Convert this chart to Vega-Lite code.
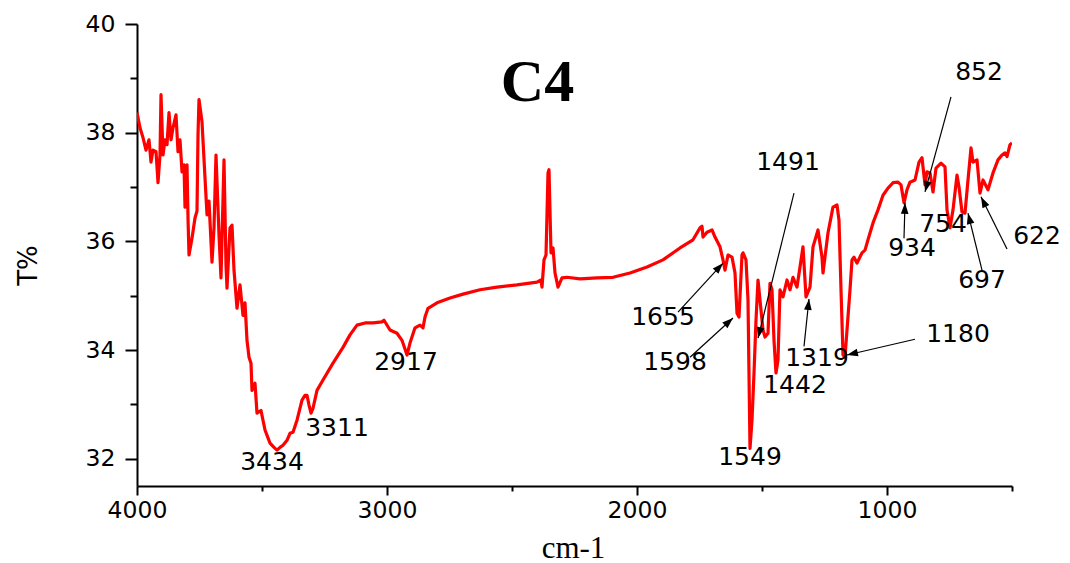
{
  "$schema": "https://vega.github.io/schema/vega-lite/v6.json",
  "autosize": {"type": "none"},
  "padding": {"left": 137, "top": 24, "right": 58, "bottom": 77},
  "width": 875,
  "height": 462,
  "background": "white",
  "title": {
    "text": "C4",
    "font": "Liberation Serif",
    "fontSize": 60,
    "fontWeight": "bold",
    "color": "black",
    "anchor": "middle",
    "dx": -37,
    "offset": -149,
    "baseline": "alphabetic"
  },
  "config": {
    "view": {"stroke": null},
    "axis": {
      "grid": false,
      "domainColor": "black",
      "domainWidth": 2,
      "tickColor": "black",
      "tickWidth": 2,
      "labelColor": "black",
      "labelFont": "DejaVu Sans",
      "labelFontSize": 23.5,
      "labelFlush": false,
      "labelOverlap": false,
      "titleColor": "black"
    }
  },
  "datasets": {
    "spectrum": [
      {"wn":4000,"t":38.37},{"wn":3988,"t":38.09},{"wn":3976,"t":37.91},{"wn":3964,"t":37.68},
      {"wn":3952,"t":37.87},{"wn":3944,"t":37.46},{"wn":3936,"t":37.68},{"wn":3924,"t":37.65},
      {"wn":3916,"t":37.08},{"wn":3908,"t":37.59},{"wn":3904,"t":38.70},{"wn":3896,"t":37.59},
      {"wn":3888,"t":37.87},{"wn":3880,"t":37.78},{"wn":3872,"t":38.37},{"wn":3864,"t":37.87},
      {"wn":3856,"t":38.09},{"wn":3844,"t":38.33},{"wn":3836,"t":37.65},{"wn":3828,"t":37.87},
      {"wn":3820,"t":37.28},{"wn":3812,"t":37.41},{"wn":3808,"t":36.63},{"wn":3800,"t":37.41},
      {"wn":3796,"t":36.43},{"wn":3792,"t":35.75},{"wn":3780,"t":36.06},{"wn":3768,"t":36.43},
      {"wn":3760,"t":36.56},{"wn":3756,"t":37.96},{"wn":3752,"t":38.61},{"wn":3740,"t":38.20},
      {"wn":3728,"t":37.17},{"wn":3720,"t":36.49},{"wn":3712,"t":36.74},{"wn":3700,"t":35.62},
      {"wn":3692,"t":36.25},{"wn":3684,"t":37.59},{"wn":3672,"t":36.12},{"wn":3664,"t":35.33},
      {"wn":3652,"t":37.50},{"wn":3644,"t":35.57},{"wn":3640,"t":35.14},{"wn":3628,"t":36.25},
      {"wn":3620,"t":36.30},{"wn":3612,"t":35.47},{"wn":3600,"t":34.77},{"wn":3588,"t":35.20},
      {"wn":3576,"t":34.64},{"wn":3568,"t":34.87},{"wn":3560,"t":34.18},{"wn":3552,"t":33.87},
      {"wn":3544,"t":33.76},{"wn":3540,"t":33.26},{"wn":3528,"t":33.39},{"wn":3520,"t":32.84},
      {"wn":3504,"t":32.89},{"wn":3488,"t":32.53},{"wn":3468,"t":32.29},{"wn":3452,"t":32.21},
      {"wn":3440,"t":32.16},{"wn":3428,"t":32.21},{"wn":3416,"t":32.25},{"wn":3400,"t":32.34},
      {"wn":3388,"t":32.47},{"wn":3376,"t":32.49},{"wn":3360,"t":32.71},{"wn":3340,"t":33.08},
      {"wn":3328,"t":33.17},{"wn":3320,"t":33.17},{"wn":3312,"t":32.99},{"wn":3304,"t":32.84},
      {"wn":3296,"t":32.93},{"wn":3280,"t":33.26},{"wn":3256,"t":33.45},{"wn":3216,"t":33.76},
      {"wn":3176,"t":34.05},{"wn":3148,"t":34.28},{"wn":3120,"t":34.46},{"wn":3088,"t":34.50},
      {"wn":3056,"t":34.50},{"wn":3020,"t":34.52},{"wn":3012,"t":34.55},{"wn":2988,"t":34.37},
      {"wn":2960,"t":34.31},{"wn":2940,"t":34.18},{"wn":2920,"t":33.91},{"wn":2908,"t":34.13},
      {"wn":2888,"t":34.41},{"wn":2868,"t":34.46},{"wn":2856,"t":34.41},{"wn":2848,"t":34.61},
      {"wn":2836,"t":34.77},{"wn":2800,"t":34.87},{"wn":2748,"t":34.96},{"wn":2696,"t":35.03},
      {"wn":2628,"t":35.11},{"wn":2560,"t":35.16},{"wn":2480,"t":35.20},{"wn":2400,"t":35.25},
      {"wn":2384,"t":35.29},{"wn":2380,"t":35.16},{"wn":2372,"t":35.66},{"wn":2364,"t":35.75},
      {"wn":2356,"t":37.26},{"wn":2352,"t":37.32},{"wn":2344,"t":35.79},{"wn":2336,"t":35.88},
      {"wn":2328,"t":35.42},{"wn":2316,"t":35.16},{"wn":2300,"t":35.33},{"wn":2280,"t":35.34},
      {"wn":2228,"t":35.31},{"wn":2160,"t":35.33},{"wn":2096,"t":35.34},{"wn":2028,"t":35.42},
      {"wn":1960,"t":35.53},{"wn":1896,"t":35.66},{"wn":1828,"t":35.88},{"wn":1776,"t":36.03},
      {"wn":1748,"t":36.25},{"wn":1740,"t":36.28},{"wn":1736,"t":36.08},{"wn":1720,"t":36.17},
      {"wn":1700,"t":36.21},{"wn":1688,"t":36.08},{"wn":1668,"t":35.90},{"wn":1656,"t":35.66},
      {"wn":1648,"t":35.47},{"wn":1636,"t":35.75},{"wn":1620,"t":35.71},{"wn":1608,"t":35.42},
      {"wn":1600,"t":34.68},{"wn":1592,"t":34.61},{"wn":1580,"t":35.75},{"wn":1576,"t":35.79},
      {"wn":1564,"t":35.66},{"wn":1556,"t":34.92},{"wn":1548,"t":32.19},{"wn":1540,"t":32.71},
      {"wn":1532,"t":33.58},{"wn":1524,"t":34.55},{"wn":1516,"t":35.29},{"wn":1508,"t":34.92},
      {"wn":1496,"t":34.37},{"wn":1488,"t":34.24},{"wn":1476,"t":34.31},{"wn":1468,"t":35.23},
      {"wn":1460,"t":35.11},{"wn":1452,"t":34.18},{"wn":1444,"t":33.58},{"wn":1436,"t":33.82},
      {"wn":1428,"t":35.11},{"wn":1416,"t":34.98},{"wn":1400,"t":35.29},{"wn":1388,"t":35.11},
      {"wn":1376,"t":35.34},{"wn":1360,"t":35.16},{"wn":1348,"t":35.53},{"wn":1336,"t":35.90},
      {"wn":1324,"t":34.98},{"wn":1308,"t":35.16},{"wn":1296,"t":35.90},{"wn":1276,"t":36.21},
      {"wn":1260,"t":35.71},{"wn":1256,"t":35.42},{"wn":1236,"t":36.16},{"wn":1216,"t":36.63},
      {"wn":1200,"t":36.67},{"wn":1192,"t":36.39},{"wn":1184,"t":35.11},{"wn":1176,"t":33.91},
      {"wn":1168,"t":33.87},{"wn":1160,"t":34.37},{"wn":1148,"t":35.11},{"wn":1140,"t":35.66},
      {"wn":1132,"t":35.71},{"wn":1120,"t":35.60},{"wn":1100,"t":35.79},{"wn":1088,"t":35.84},
      {"wn":1076,"t":36.03},{"wn":1056,"t":36.34},{"wn":1036,"t":36.58},{"wn":1016,"t":36.85},
      {"wn":996,"t":36.98},{"wn":976,"t":37.08},{"wn":956,"t":37.09},{"wn":944,"t":37.04},
      {"wn":932,"t":36.71},{"wn":920,"t":36.95},{"wn":908,"t":37.09},{"wn":888,"t":37.13},
      {"wn":872,"t":37.46},{"wn":860,"t":37.54},{"wn":848,"t":37.04},{"wn":840,"t":37.28},
      {"wn":828,"t":37.26},{"wn":816,"t":36.91},{"wn":804,"t":37.35},{"wn":784,"t":37.44},
      {"wn":768,"t":37.37},{"wn":760,"t":36.58},{"wn":748,"t":36.25},{"wn":736,"t":36.58},
      {"wn":720,"t":37.22},{"wn":712,"t":37.00},{"wn":700,"t":36.54},{"wn":688,"t":36.52},
      {"wn":676,"t":37.13},{"wn":664,"t":37.72},{"wn":656,"t":37.46},{"wn":640,"t":37.50},
      {"wn":628,"t":36.89},{"wn":616,"t":37.13},{"wn":596,"t":36.95},{"wn":576,"t":37.26},
      {"wn":556,"t":37.50},{"wn":540,"t":37.59},{"wn":528,"t":37.63},{"wn":520,"t":37.56},
      {"wn":508,"t":37.78},{"wn":500,"t":37.81}
    ],
    "peakLabels": [
      {"label":"3434","wn":3460,"t":31.94},
      {"label":"3311","wn":3200,"t":32.56},
      {"label":"2917","wn":2924,"t":33.78},
      {"label":"1655","wn":1896,"t":34.61},
      {"label":"1598","wn":1848,"t":33.78},
      {"label":"1491","wn":1396,"t":37.46},
      {"label":"1549","wn":1548,"t":32.03},
      {"label":"1442","wn":1368,"t":33.36},
      {"label":"1319","wn":1280,"t":33.85},
      {"label":"1180","wn":716,"t":34.29},
      {"label":"934","wn":900,"t":35.88},
      {"label":"852","wn":632,"t":39.12},
      {"label":"754","wn":776,"t":36.32},
      {"label":"697","wn":620,"t":35.29},
      {"label":"622","wn":400,"t":36.10}
    ],
    "pointers": [
      {"peak":"1655","wn":1836,"t":34.70,"wn2":1656,"t2":35.60},
      {"peak":"1598","wn":1788,"t":33.87,"wn2":1616,"t2":34.59},
      {"peak":"1491","wn":1372,"t":36.89,"wn2":1516,"t2":34.22},
      {"peak":"1319","wn":1332,"t":34.07,"wn2":1312,"t2":34.94},
      {"peak":"1180","wn":888,"t":34.20,"wn2":1160,"t2":33.91},
      {"peak":"934","wn":932,"t":36.06,"wn2":928,"t2":36.71},
      {"peak":"852","wn":744,"t":38.66,"wn2":848,"t2":36.91},
      {"peak":"697","wn":620,"t":35.47,"wn2":676,"t2":36.52},
      {"peak":"622","wn":520,"t":35.86,"wn2":624,"t2":36.82}
    ]
  },
  "resolve": {"axis": {"x": "independent", "y": "independent"}},
  "layer": [
    {
      "data": {"name": "spectrum"},
      "mark": {"type": "line", "color": "#ff0000", "strokeWidth": 3.2, "strokeJoin": "round", "clip": true},
      "encoding": {
        "x": {
          "field": "wn", "type": "quantitative",
          "scale": {"domain": [500, 4000], "reverse": true, "nice": false, "zero": false},
          "axis": {
            "orient": "bottom",
            "values": [4000, 3000, 2000, 1000],
            "format": "d",
            "tickSize": 9,
            "labelPadding": 3,
            "title": "cm-1",
            "titleFont": "Liberation Serif",
            "titleFontSize": 31,
            "titleFontWeight": "normal",
            "titleX": 436,
            "titleY": 62,
            "titleAlign": "center",
            "titleBaseline": "middle"
          }
        },
        "y": {
          "field": "t", "type": "quantitative",
          "scale": {"domain": [31.5, 40], "nice": false, "zero": false},
          "axis": {
            "orient": "left",
            "values": [32, 34, 36, 38, 40],
            "format": "d",
            "tickSize": 12,
            "labelPadding": 10,
            "title": "T%",
            "titleFont": "DejaVu Sans",
            "titleFontSize": 26,
            "titleFontWeight": "normal",
            "titleX": -109,
            "titleY": 241,
            "titleAngle": -90,
            "titleAlign": "center",
            "titleBaseline": "middle"
          }
        },
        "order": {"field": "wn", "sort": "descending"}
      }
    },
    {
      "data": {"name": "pointers"},
      "mark": {"type": "rule", "color": "black", "strokeWidth": 1.2},
      "encoding": {
        "x": {
          "field": "wn", "type": "quantitative",
          "axis": {
            "orient": "bottom",
            "values": [3500, 2500, 1500, 500],
            "labels": false,
            "domain": false,
            "tickSize": 5,
            "title": null
          }
        },
        "y": {
          "field": "t", "type": "quantitative",
          "axis": {
            "orient": "left",
            "values": [33, 35, 37, 39],
            "labels": false,
            "domain": false,
            "tickSize": 7,
            "title": null
          }
        },
        "x2": {"field": "wn2"},
        "y2": {"field": "t2"}
      }
    },
    {
      "data": {"name": "pointers"},
      "transform": [
        {"calculate": "atan2(-(datum.wn2 - datum.wn) / 4, (datum.t2 - datum.t) * 54.35) * 180 / PI", "as": "heading"}
      ],
      "mark": {
        "type": "point",
        "filled": true,
        "color": "black",
        "opacity": 1,
        "size": 120,
        "shape": "M0,0L-0.7,2L0.7,2Z"
      },
      "encoding": {
        "x": {"field": "wn2", "type": "quantitative", "axis": null},
        "y": {"field": "t2", "type": "quantitative", "axis": null},
        "angle": {"field": "heading", "type": "quantitative", "scale": null}
      }
    },
    {
      "data": {"name": "peakLabels"},
      "mark": {
        "type": "text",
        "font": "DejaVu Sans",
        "fontSize": 25,
        "color": "black",
        "align": "center",
        "baseline": "middle"
      },
      "encoding": {
        "x": {"field": "wn", "type": "quantitative", "axis": null},
        "y": {"field": "t", "type": "quantitative", "axis": null},
        "text": {"field": "label"}
      }
    }
  ]
}
